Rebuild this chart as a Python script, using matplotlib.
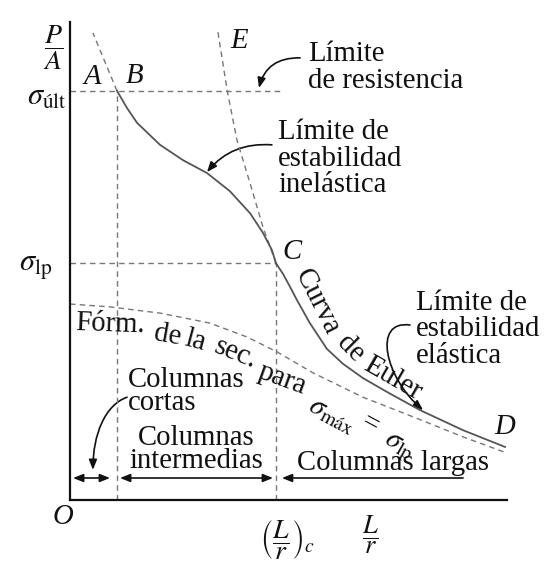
import matplotlib
matplotlib.use("Agg")
import matplotlib.pyplot as plt
from matplotlib.path import Path
from matplotlib.patches import FancyArrowPatch

plt.rcParams["font.family"] = ["Liberation Serif", "DejaVu Serif"]
plt.rcParams["mathtext.fontset"] = "stix"

# Stress levels (P/A) and slenderness ratios (L/r)
sigma_ult = 85.6
sigma_lp = 49.5
lr_short = 21.5      # end of the short-column range (point B)
lr_crit = 94.3       # (L/r)_c, point C

# Inelastic stability limit, B -> C
inel_lr = [21.5, 26.1, 30.7, 41.2, 51.7, 62.7, 73.2, 82.4, 88.3, 92.4, 94.3]
inel_pa = [85.6, 82.0, 78.9, 74.3, 71.1, 68.4, 64.6, 60.0, 55.9, 52.3, 49.5]

# Euler curve (elastic stability limit), C -> D
euler_lr = [94.3, 97.5, 100.7, 103.9, 109.8, 117.6, 124.9, 134.1, 145.1, 160.2, 179.9, 199.1]
euler_pa = [49.5, 47.3, 44.6, 41.8, 37.0, 31.6, 28.5, 25.5, 22.6, 18.8, 14.6, 11.1]

# Euler curve continued above the proportional limit, C -> E
euler_ext_lr = [94.3, 88.3, 83.3, 79.6, 76.4, 71.9, 67.7]
euler_ext_pa = [49.5, 57.1, 64.9, 70.5, 75.3, 85.8, 97.9]

# Dashed branch through A
branch_a_lr = [21.5, 10.5]
branch_a_pa = [85.6, 97.7]

# Secant formula for sigma_max = sigma_lp
secant_lr = [0.0, 18.3, 41.2, 64.1, 81.0, 94.7, 111.2, 134.1, 157.0, 179.9, 199.5]
secant_pa = [41.0, 40.4, 39.1, 37.0, 34.1, 31.0, 26.6, 21.5, 17.4, 13.2, 9.9]

# Column ranges along the L/r axis
ranges = [(1.4, 18.3, "<|-|>"), (22.9, 92.9, "<|-|>"), (97.0, 179.9, "<|-")]
range_level = 4.6

INK = "#111111"
CURVE = "#555555"
DASH = "#777777"
FS = 20.7
dash = (0, (4, 3))

fig = plt.figure(figsize=(5.49, 5.70), dpi=100)
fig.patch.set_facecolor("white")
ax = fig.add_axes([0.1275, 0.12281, 0.79599, 0.83860])
ax.set_xlim(0, 200)
ax.set_ylim(0, 100)
ax.set_xticks([])
ax.set_yticks([])
for s in ("top", "right"):
    ax.spines[s].set_visible(False)
for s in ("left", "bottom"):
    ax.spines[s].set_linewidth(1.6)
    ax.spines[s].set_color(INK)

# Reference lines
ax.plot([0, 96.6], [sigma_ult, sigma_ult], ls=dash, color=DASH, lw=1.0, clip_on=False)
ax.plot([0, lr_crit], [sigma_lp, sigma_lp], ls=dash, color=DASH, lw=1.0, clip_on=False)
ax.plot([lr_short, lr_short], [0, sigma_ult], ls=dash, color=DASH, lw=1.0, clip_on=False)
ax.plot([lr_crit, lr_crit], [0, sigma_lp], ls=dash, color=DASH, lw=1.0, clip_on=False)

# Curves
ax.plot(branch_a_lr, branch_a_pa, ls=dash, color=DASH, lw=1.0, clip_on=False)
ax.plot(euler_ext_lr, euler_ext_pa, ls=dash, color=DASH, lw=1.0, clip_on=False)
ax.plot(secant_lr, secant_pa, ls=dash, color=DASH, lw=1.0, clip_on=False)
ax.plot(inel_lr, inel_pa, color=CURVE, lw=1.3, clip_on=False)
ax.plot(euler_lr, euler_pa, color=CURVE, lw=1.3, clip_on=False)

# Range arrows
for x0, x1, style in ranges:
    ax.annotate("", xy=(x1, range_level), xytext=(x0, range_level),
                arrowprops=dict(arrowstyle=style + ",head_length=0.5,head_width=0.2",
                                mutation_scale=12, lw=1.2, color=INK,
                                shrinkA=0, shrinkB=0))

def curved_arrow(verts, codes):
    arr = FancyArrowPatch(path=Path(verts, codes),
                          arrowstyle="-|>,head_length=0.5,head_width=0.2",
                          mutation_scale=12, lw=1.2, color=INK,
                          transform=ax.transData, clip_on=False)
    ax.add_patch(arr)

Q = [Path.MOVETO, Path.CURVE3, Path.CURVE3]
C4 = [Path.MOVETO, Path.CURVE4, Path.CURVE4, Path.CURVE4]
curved_arrow([(105.3, 92.5), (90.0, 92.6), (86.5, 86.2)], Q)
curved_arrow([(92.4, 74.3), (74.1, 74.9), (62.7, 68.6)], Q)
curved_arrow([(155.6, 36.6), (138.2, 37.7), (144.2, 25.5), (161.6, 18.8)], C4)
curved_arrow([(26.1, 21.5), (16.0, 19.9), (10.5, 13.6), (10.5, 6.3)], C4)

# Axis labels and points
ax.text(-7.6, 94.7, r"$\dfrac{P}{A}$", fontsize=20, ha="center", va="center", color=INK)
ax.text(-1.4, 84.2, r"$\sigma_{\mathrm{últ}}$", fontsize=22, ha="right", va="center", color=INK)
ax.text(-8.2, 48.6, r"$\sigma_{\mathrm{lp}}$", fontsize=22, ha="right", va="center", color=INK)
ax.text(-3.2, -3.6, "O", fontsize=FS, style="italic", ha="center", va="center", color=INK)
ax.text(86.8, -8.2, r"$\left(\dfrac{L}{r}\right)_{c}$", fontsize=20, ha="left", va="center", color=INK)
ax.text(137.3, -7.3, r"$\dfrac{L}{r}$", fontsize=19, ha="center", va="center", color=INK)

for lab, x, y in [("A", 10.1, 88.5), ("B", 29.7, 88.7), ("E", 77.3, 96.0),
                  ("C", 101.6, 51.9), ("D", 199.1, 15.3)]:
    ax.text(x, y, lab, fontsize=FS, style="italic", ha="center", va="center", color=INK)

# Annotations (y is the baseline of the last line of each block)
def block(x, y, text, ha="left", ls=1.03):
    ax.text(x, y, text, fontsize=FS, ha=ha, va="baseline", color=INK,
            linespacing=ls)

block(108.9, 86.2, "Límite\nde resistencia")
block(95.2, 64.4, "Límite de\nestabilidad\ninelástica")
block(158.3, 28.7, "Límite de\nestabilidad\nelástica")
block(26.5, 18.8, "Columnas\ncortas", ls=0.86)
block(57.7, 6.7, "Columnas\nintermedias", ha="center", ls=0.86)
block(147.8, 6.3, "Columnas largas", ha="center")

# Text following the Euler curve
for t, x, y, rot in [("Curva", 113.0, 41.4, -63), ("de", 128.4, 31.6, -45),
                     ("Euler", 147.8, 25.4, -30)]:
    ax.text(x, y, t, fontsize=FS, rotation=rot, rotation_mode="anchor",
            ha="center", va="center", color=INK)

# Text following the secant-formula curve
for t, x, y, rot in [("Fórm.", 2.3, 35.6, -2), ("de", 38.0, 33.5, -10),
                     ("la", 51.7, 32.4, -15), ("sec.", 65.4, 31.0, -22),
                     ("para", 85.6, 25.7, -20),
                     (r"$\sigma_{\mathrm{máx}}$", 108.5, 18.8, -28)]:
    ax.text(x, y, t, fontsize=FS, rotation=rot, rotation_mode="anchor",
            ha="left", va="baseline", color=INK)
ax.text(137.3, 15.7, "=", fontsize=FS, rotation=-28, rotation_mode="anchor",
        ha="center", va="center", color=INK)
ax.text(143.3, 12.1, r"$\sigma_{\mathrm{lp}}$", fontsize=FS, rotation=-30,
        rotation_mode="anchor", ha="left", va="baseline", color=INK)

fig.savefig("out.png", dpi=100, facecolor="white")
